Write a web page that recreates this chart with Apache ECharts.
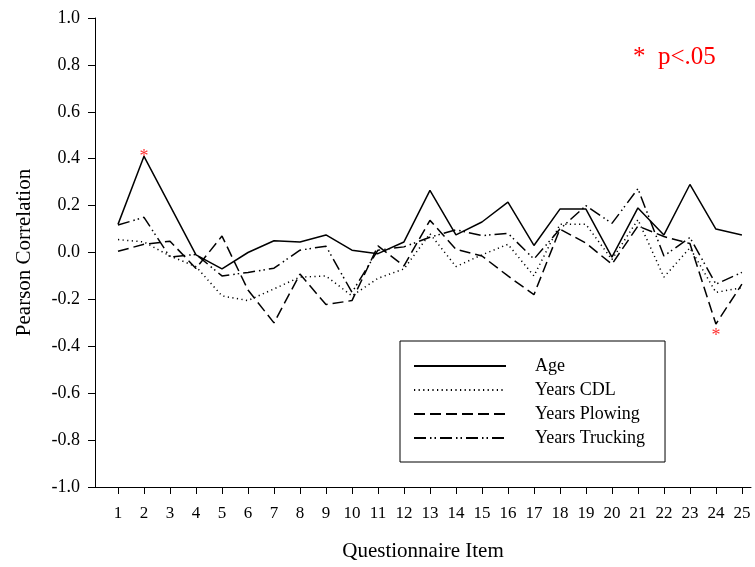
<!DOCTYPE html>
<html lang="en">
<head>
    <meta charset="UTF-8">
    <title>Pearson Correlation</title>
    <style type="text/css">
        *{
            margin: 0;
            padding: 0;
        }
        #main{
            width: 755px;
            height: 567px;
            position: absolute;
            background: #fff;
        }
    </style>
</head>
<body>
    <div id="main"></div>
    <script src="https://cdn.jsdelivr.net/npm/echarts@6/dist/echarts.min.js"></script>
    <script type="text/javascript">
        var items = [1, 2, 3, 4, 5, 6, 7, 8, 9, 10, 11, 12, 13, 14, 15, 16, 17, 18, 19, 20, 21, 22, 23, 24, 25];
        var age = [0.12, 0.41, 0.20, -0.01, -0.07, 0.00, 0.05, 0.045, 0.075, 0.01, -0.005, 0.045, 0.265, 0.075, 0.13, 0.215, 0.03, 0.185, 0.185, -0.02, 0.19, 0.075, 0.29, 0.10, 0.075];
        var yearsCDL = [0.055, 0.045, -0.015, -0.06, -0.185, -0.205, -0.155, -0.105, -0.10, -0.185, -0.11, -0.07, 0.08, -0.06, -0.01, 0.035, -0.10, 0.12, 0.12, -0.03, 0.14, -0.105, 0.02, -0.17, -0.15];
        var yearsPlowing = [0.005, 0.035, 0.048, -0.068, 0.07, -0.16, -0.30, -0.092, -0.222, -0.205, 0.028, -0.057, 0.137, 0.014, -0.015, -0.10, -0.18, 0.10, 0.04, -0.05, 0.113, 0.068, 0.038, -0.305, -0.135];
        var yearsTrucking = [0.117, 0.15, -0.02, -0.008, -0.10, -0.085, -0.067, 0.01, 0.027, -0.17, 0.01, 0.024, 0.065, 0.097, 0.072, 0.082, -0.028, 0.10, 0.20, 0.124, 0.272, -0.015, 0.064, -0.135, -0.085];
        // significant items (p<.05)
        var sigAge = [2];
        var sigPlowing = [24];

        var serif = 'Liberation Serif';

        function pairs(vals) {
            return items.map(function (x, i) { return [x, vals[i]]; });
        }

        function stars(list, vals, dy) {
            return list.map(function (it) {
                return {
                    coord: [it, vals[items.indexOf(it)]],
                    label: { offset: [0, dy] }
                };
            });
        }

        function lineSeries(name, vals, dash) {
            return {
                name: name,
                type: 'line',
                data: pairs(vals),
                symbol: 'none',
                lineStyle: { color: '#000', width: 1.5, type: dash }
            };
        }

        var markStyle = {
            symbol: 'circle',
            symbolSize: 1,
            itemStyle: { color: 'rgba(0,0,0,0)' },
            label: {
                show: true,
                position: 'inside',
                formatter: '*',
                color: '#ff3030',
                fontFamily: serif,
                fontSize: 18
            }
        };

        var myChart = echarts.init(document.getElementById('main'));

        var s1 = lineSeries('Age', age, 'solid');
        s1.markPoint = Object.assign({ data: stars(sigAge, age, 1) }, markStyle);
        var s2 = lineSeries('Years CDL', yearsCDL, [1.2, 3.4]);
        var s3 = lineSeries('Years Plowing', yearsPlowing, [11, 5]);
        s3.markPoint = Object.assign({ data: stars(sigPlowing, yearsPlowing, 12) }, markStyle);
        var s4 = lineSeries('Years Trucking', yearsTrucking, [12, 4, 1.5, 3, 1.5, 4]);

        var option = {
            animation: false,
            backgroundColor: '#fff',
            title: {
                text: '*  p<.05',
                left: 628,
                top: 40,
                textStyle: {
                    color: '#ff0000',
                    fontFamily: serif,
                    fontWeight: 'normal',
                    fontSize: 25
                }
            },
            legend: {
                orient: 'vertical',
                left: 400,
                top: 341,
                padding: [16, 20, 15, 13],
                itemGap: 6,
                itemWidth: 92,
                itemHeight: 14,
                borderColor: '#000',
                borderWidth: 1,
                // hide the marker dot, keep only the line sample
                itemStyle: { color: 'rgba(0,0,0,0)', borderWidth: 0 },
                textStyle: {
                    fontFamily: serif,
                    fontSize: 18,
                    color: '#000',
                    padding: [0, 0, 0, 24]
                },
                data: ['Age', 'Years CDL', 'Years Plowing', 'Years Trucking']
            },
            grid: {
                left: 95,
                right: 4,
                top: 18,
                bottom: 79
            },
            xAxis: {
                type: 'value',
                min: 0.115,
                max: 25.35,
                name: 'Questionnaire Item',
                nameLocation: 'middle',
                nameGap: 54,
                nameTextStyle: { fontFamily: serif, fontSize: 21, color: '#000' },
                axisLine: { onZero: false, lineStyle: { color: '#000', width: 1 } },
                axisTick: { show: true, length: 7, customValues: items, lineStyle: { color: '#000' } },
                axisLabel: { customValues: items, margin: 18, fontFamily: serif, fontSize: 17, color: '#000' },
                splitLine: { show: false }
            },
            yAxis: {
                type: 'value',
                min: -1,
                max: 1,
                interval: 0.2,
                name: 'Pearson Correlation',
                nameLocation: 'middle',
                nameGap: 60,
                nameTextStyle: { fontFamily: serif, fontSize: 21, color: '#000' },
                axisLine: { show: true, onZero: false, lineStyle: { color: '#000', width: 1 } },
                axisTick: { show: true, length: 7, lineStyle: { color: '#000' } },
                axisLabel: {
                    margin: 15,
                    fontFamily: serif,
                    fontSize: 18,
                    color: '#000',
                    formatter: function (v) { return v.toFixed(1); }
                },
                splitLine: { show: false }
            },
            series: [s1, s2, s3, s4]
        };

        myChart.setOption(option);
    </script>
</body>
</html>
